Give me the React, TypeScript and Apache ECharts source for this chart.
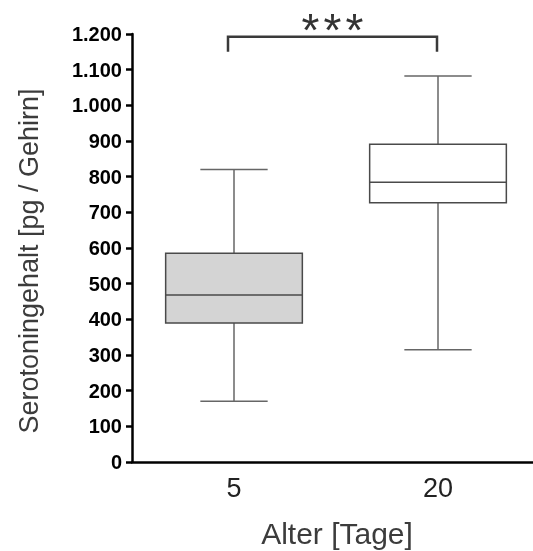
import React, { useEffect, useRef } from "react";
import * as echarts from "echarts";

const categories = ["5", "20"];
const whiskerMin = [170, 315];
const q1 = [390, 727];
const median = [468, 784];
const q3 = [585, 891];
const whiskerMax = [820, 1082];
const boxFills = ["#d4d4d4", "#ffffff"];

const yMin = 0;
const yMax = 1200;
const yInterval = 100;

const bracketFrom = 0;
const bracketTo = 1;
const bracketTop = 1192;
const bracketFoot = 1150;
const starLabel = "***";

const yName = "Serotoningehalt [pg / Gehirn]";
const xName = "Alter [Tage]";

const FONT = "'Liberation Sans', Arial, Helvetica, sans-serif";

export default function App() {
  const ref = useRef<HTMLDivElement>(null);

  useEffect(() => {
    if (!ref.current) return;
    const chart = echarts.init(ref.current, null, { renderer: "svg" });

    const boxData = categories.map((_, i) => [
      i,
      whiskerMin[i],
      q1[i],
      median[i],
      q3[i],
      whiskerMax[i],
    ]);

    const option: any = {
      animation: false,
      grid: {
        left: 132,
        top: 34,
        width: 408,
        height: 428,
        containLabel: false,
        outerBoundsMode: "none",
      },
      xAxis: {
        type: "category",
        data: categories,
        boundaryGap: true,
        axisLine: { lineStyle: { color: "#000", width: 2.5 } },
        axisTick: {
          alignWithLabel: true,
          length: 6,
          lineStyle: { color: "#000", width: 2.5 },
        },
        axisLabel: {
          fontSize: 27,
          color: "#222",
          margin: 12,
          fontFamily: FONT,
        },
        splitLine: { show: false },
      },
      yAxis: {
        type: "value",
        min: yMin,
        max: yMax,
        interval: yInterval,
        axisLine: { show: true, lineStyle: { color: "#000", width: 2.5 } },
        axisTick: { show: true, length: 6, lineStyle: { color: "#000", width: 2.5 } },
        splitLine: { show: false },
        axisLabel: {
          fontSize: 20,
          fontWeight: "bold",
          color: "#000",
          margin: 10,
          fontFamily: FONT,
          formatter: (v: number) =>
            String(v).replace(/\B(?=(\d{3})+(?!\d))/g, "."),
        },
      },
      graphic: [
        {
          type: "text",
          x: 29,
          y: 261,
          rotation: Math.PI / 2,
          style: {
            text: yName,
            fontSize: 27,
            fontFamily: FONT,
            fill: "#3c3c3c",
            align: "center",
            verticalAlign: "middle",
          },
        },
        {
          type: "text",
          x: 337,
          y: 533,
          style: {
            text: xName,
            fontSize: 30,
            fontFamily: FONT,
            fill: "#3c3c3c",
            align: "center",
            verticalAlign: "middle",
          },
        },
      ],
      series: [
        {
          type: "custom",
          data: boxData,
          encode: { x: 0, y: [1, 2, 3, 4, 5] },
          renderItem: (params: any, api: any) => {
            const xi = api.value(0);
            const c = (v: number) => api.coord([xi, v]);
            const [cx, yLo] = c(api.value(1));
            const yQ1 = c(api.value(2))[1];
            const yMed = c(api.value(3))[1];
            const yQ3 = c(api.value(4))[1];
            const yHi = c(api.value(5))[1];
            const band = api.size([1, 0])[0];
            const bw = band * 0.67;
            const cw = band * 0.33;
            const wStyle = { stroke: "#666", lineWidth: 1.5 };
            const bStyle = { stroke: "#4a4a4a", lineWidth: 1.5 };
            return {
              type: "group",
              children: [
                { type: "line", shape: { x1: cx, y1: yQ1, x2: cx, y2: yLo }, style: wStyle },
                { type: "line", shape: { x1: cx, y1: yQ3, x2: cx, y2: yHi }, style: wStyle },
                { type: "line", shape: { x1: cx - cw / 2, y1: yLo, x2: cx + cw / 2, y2: yLo }, style: wStyle },
                { type: "line", shape: { x1: cx - cw / 2, y1: yHi, x2: cx + cw / 2, y2: yHi }, style: wStyle },
                {
                  type: "rect",
                  shape: { x: cx - bw / 2, y: yQ3, width: bw, height: yQ1 - yQ3 },
                  style: { fill: boxFills[params.dataIndex], ...bStyle },
                },
                { type: "line", shape: { x1: cx - bw / 2, y1: yMed, x2: cx + bw / 2, y2: yMed }, style: bStyle },
              ],
            };
          },
        },
        {
          type: "custom",
          data: [[bracketFrom, bracketTo, bracketTop, bracketFoot]],
          encode: { x: [0, 1], y: [2, 3] },
          renderItem: (params: any, api: any) => {
            const [x0, yT] = api.coord([api.value(0), api.value(2)]);
            const [x1] = api.coord([api.value(1), api.value(2)]);
            const yF = api.coord([api.value(0), api.value(3)])[1];
            const left = x0 - 6;
            const right = x1 - 1;
            const mid = (left + right) / 2;
            const stars = starLabel.split("");
            return {
              type: "group",
              children: [
                {
                  type: "polyline",
                  shape: { points: [[left, yF], [left, yT], [right, yT], [right, yF]] },
                  style: { stroke: "#3a3a3a", lineWidth: 2.5, fill: "none" },
                },
                ...stars.map((s, k) => ({
                  type: "text",
                  x: mid + (k - (stars.length - 1) / 2) * 22,
                  y: yT - 7,
                  style: {
                    text: s,
                    fontSize: 46,
                    fontFamily: FONT,
                    fill: "#333",
                    align: "center",
                    verticalAlign: "middle",
                  },
                })),
              ],
            };
          },
        },
      ],
    };

    chart.setOption(option);
    return () => chart.dispose();
  }, []);

  return (
    <div
      ref={ref}
      style={{ position: "fixed", left: 0, top: 0, width: 533, height: 551 }}
    />
  );
}
